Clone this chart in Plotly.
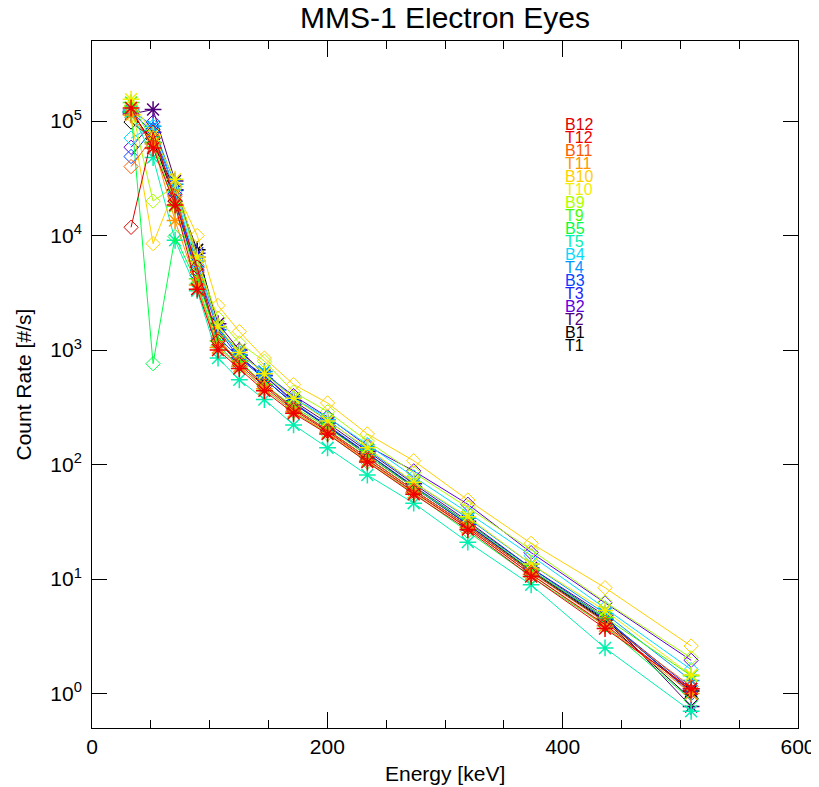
import plotly.graph_objects as go

energy = [33.2, 51.9, 70.6, 89.4, 107.1, 125.2, 146.5, 171.3, 200.2, 234.0, 273.4, 319.4, 373.2, 436.0, 509.2]

B12 = [1.18e4, 8.0e4, 2.0e4, 5.3e3, 1.2e3, 750, 480, 300, 195, 110, 58, 28, 11.0, 4.0, 1.05]
T12 = [1.3e5, 5.8e4, 1.85e4, 3.4e3, 1.0e3, 690, 440, 280, 185, 105, 55, 27, 10.5, 3.7, 1.1]
B11 = [4.0e4, 7.2e4, 2.2e4, 4.8e3, 1.25e3, 780, 500, 310, 200, 115, 60, 29, 11.5, 4.2, 1.15]
T11 = [1.13e5, 6.3e4, 1.35e4, 3.7e3, 1.05e3, 720, 460, 290, 190, 108, 57, 28, 11.0, 3.9, 1.0]
B10 = [1.12e5, 8.5e3, 2.6e4, 1.0e4, 2.45e3, 1.45e3, 850, 500, 345, 185, 108, 49, 20.5, 8.4, 2.6]
T10 = [1.55e5, 7.5e4, 3.1e4, 6.5e3, 1.6e3, 950, 620, 380, 240, 140, 70, 35, 13.5, 5.3, 1.45]
B9 = [1.35e5, 2.0e4, 2.7e4, 6.0e3, 1.9e3, 1.15e3, 800, 430, 290, 160, 85, 42, 18, 6.3, 2.05]
T9 = [1.45e5, 6.5e4, 1.8e4, 4.2e3, 1.2e3, 800, 500, 320, 210, 120, 63, 31, 12.0, 4.6, 1.43]
B5 = [1.2e5, 760, 9.8e3, 3.8e3, 1.1e3, 720, 460, 290, 185, 105, 56, 26, 10.5, 3.9, 0.88]
T5 = [1.2e5, 4.8e4, 9.1e3, 3.3e3, 850, 550, 370, 222, 140, 81, 46, 21, 8.9, 2.5, 0.7]
B4 = [7.1e4, 9.0e4, 2.4e4, 5.5e3, 1.5e3, 950, 620, 380, 257, 150, 78, 38, 16, 5.6, 1.62]
T4 = [1.25e5, 9.0e4, 2.8e4, 6.0e3, 1.6e3, 900, 650, 380, 245, 135, 70, 34, 13.5, 5.0, 1.3]
B3 = [4.9e4, 8.5e4, 2.0e4, 4.5e3, 1.3e3, 850, 560, 340, 220, 125, 65, 31, 12.5, 4.6, 1.0]
T3 = [1.2e5, 8.0e4, 2.5e4, 7.0e3, 1.5e3, 850, 600, 350, 215, 120, 63, 30, 12.0, 4.5, 1.1]
B2 = [5.9e4, 9.8e4, 2.3e4, 5.0e3, 1.5e3, 1.0e3, 620, 400, 260, 145, 88, 45, 17, 6.2, 1.95]
T2 = [1.15e5, 1.26e5, 3.0e4, 6.5e3, 1.7e3, 1.0e3, 600, 360, 230, 130, 68, 32, 12.5, 4.8, 0.77]
B1 = [9.8e4, 7.0e4, 2.0e4, 4.5e3, 1.2e3, 780, 500, 310, 200, 115, 60, 29, 11.5, 4.3, 0.9]
T1 = [1.2e5, 6.5e4, 2.5e4, 7.5e3, 1.6e3, 900, 560, 340, 215, 125, 64, 30, 11.8, 4.4, 1.05]

labels = ["B12", "T12", "B11", "T11", "B10", "T10", "B9", "T9", "B5", "T5",
          "B4", "T4", "B3", "T3", "B2", "T2", "B1", "T1"]
series = [B12, T12, B11, T11, B10, T10, B9, T9, B5, T5, B4, T4, B3, T3, B2, T2, B1, T1]
colors = ["#e00000", "#f00000", "#ff5a00", "#ff9600", "#ffd000", "#f2ee00",
          "#aaff00", "#46ff00", "#00ff46", "#00f0b0", "#00dcff", "#0096ff",
          "#0046ff", "#1e1eff", "#5a00dc", "#50007a", "#000000", "#000000"]

y_tickvals = [1, 10, 100, 1000, 1e4, 1e5]
y_ticktext = ["10<sup>0</sup>", "10<sup>1</sup>", "10<sup>2</sup>",
              "10<sup>3</sup>", "10<sup>4</sup>", "10<sup>5</sup>"]
x_tickvals = [0, 200, 400, 600]

fig = go.Figure()
for lab, vals, col in list(zip(labels, series, colors))[::-1]:
    is_b = lab.startswith("B")
    fig.add_trace(go.Scatter(
        x=energy, y=vals, mode="lines+markers", name=lab,
        line=dict(color=col, width=1),
        marker=dict(symbol="diamond-open" if is_b else "asterisk-open",
                    size=11 if is_b else 14, color=col,
                    line=dict(color=col, width=1 if is_b else 1.5)),
        showlegend=False))

font = "Liberation Sans, Arial, Helvetica, sans-serif"
annotations = []
x0 = (563 - 92) / 706
for i, (lab, col) in enumerate(zip(labels, colors)):
    ypix = 124 + i * 13.05
    annotations.append(dict(xref="paper", yref="paper", x=x0, y=(728 - ypix) / 687,
                            text=lab, showarrow=False, xanchor="left", yanchor="middle",
                            font=dict(family=font, size=16, color=col)))
annotations.append(dict(xref="paper", yref="paper", x=0.5, y=(728 - 773) / 687,
                        text="Energy [keV]", showarrow=False, xanchor="center", yanchor="middle",
                        font=dict(family=font, size=21, color="black")))
annotations.append(dict(xref="paper", yref="paper", x=(23 - 92) / 706, y=0.5,
                        text="Count Rate [#/s]", showarrow=False, textangle=-90,
                        xanchor="center", yanchor="middle",
                        font=dict(family=font, size=21, color="black")))

# page has an 8px body margin, so the figure is 8px smaller and shifted
W, H = 811, 779
fig.update_layout(
    width=W, height=H,
    margin=dict(l=84, r=21, t=33, b=59, autoexpand=False),
    paper_bgcolor="white", plot_bgcolor="white",
    title=dict(text="MMS-1 Electron Eyes", x=437 / W, xanchor="center",
               y=1 - 9 / H, yanchor="middle", xref="container", yref="container",
               font=dict(family=font, size=30, color="black")),
    font=dict(family=font, color="black"),
    annotations=annotations,
    xaxis=dict(range=[0, 600], tickvals=x_tickvals, showgrid=False, zeroline=False,
               automargin=False,
               showline=True, linecolor="black", linewidth=1, mirror="ticks",
               ticks="inside", ticklen=16, tickcolor="black", tickwidth=1,
               tickfont=dict(family=font, size=21, color="black"),
               minor=dict(dtick=50, tick0=0, ticks="inside", ticklen=8, tickcolor="black",
                          tickwidth=1, showgrid=False)),
    yaxis=dict(type="log", range=[-0.301, 5.699], tickvals=y_tickvals, ticktext=y_ticktext,
               showgrid=False, zeroline=False, automargin=False,
               showline=True, linecolor="black", linewidth=1, mirror="ticks",
               ticks="inside", ticklen=15, tickcolor="black", tickwidth=1,
               ticklabelstandoff=5,
               tickfont=dict(family=font, size=21, color="black")),
)

fig.write_html("out.html")
